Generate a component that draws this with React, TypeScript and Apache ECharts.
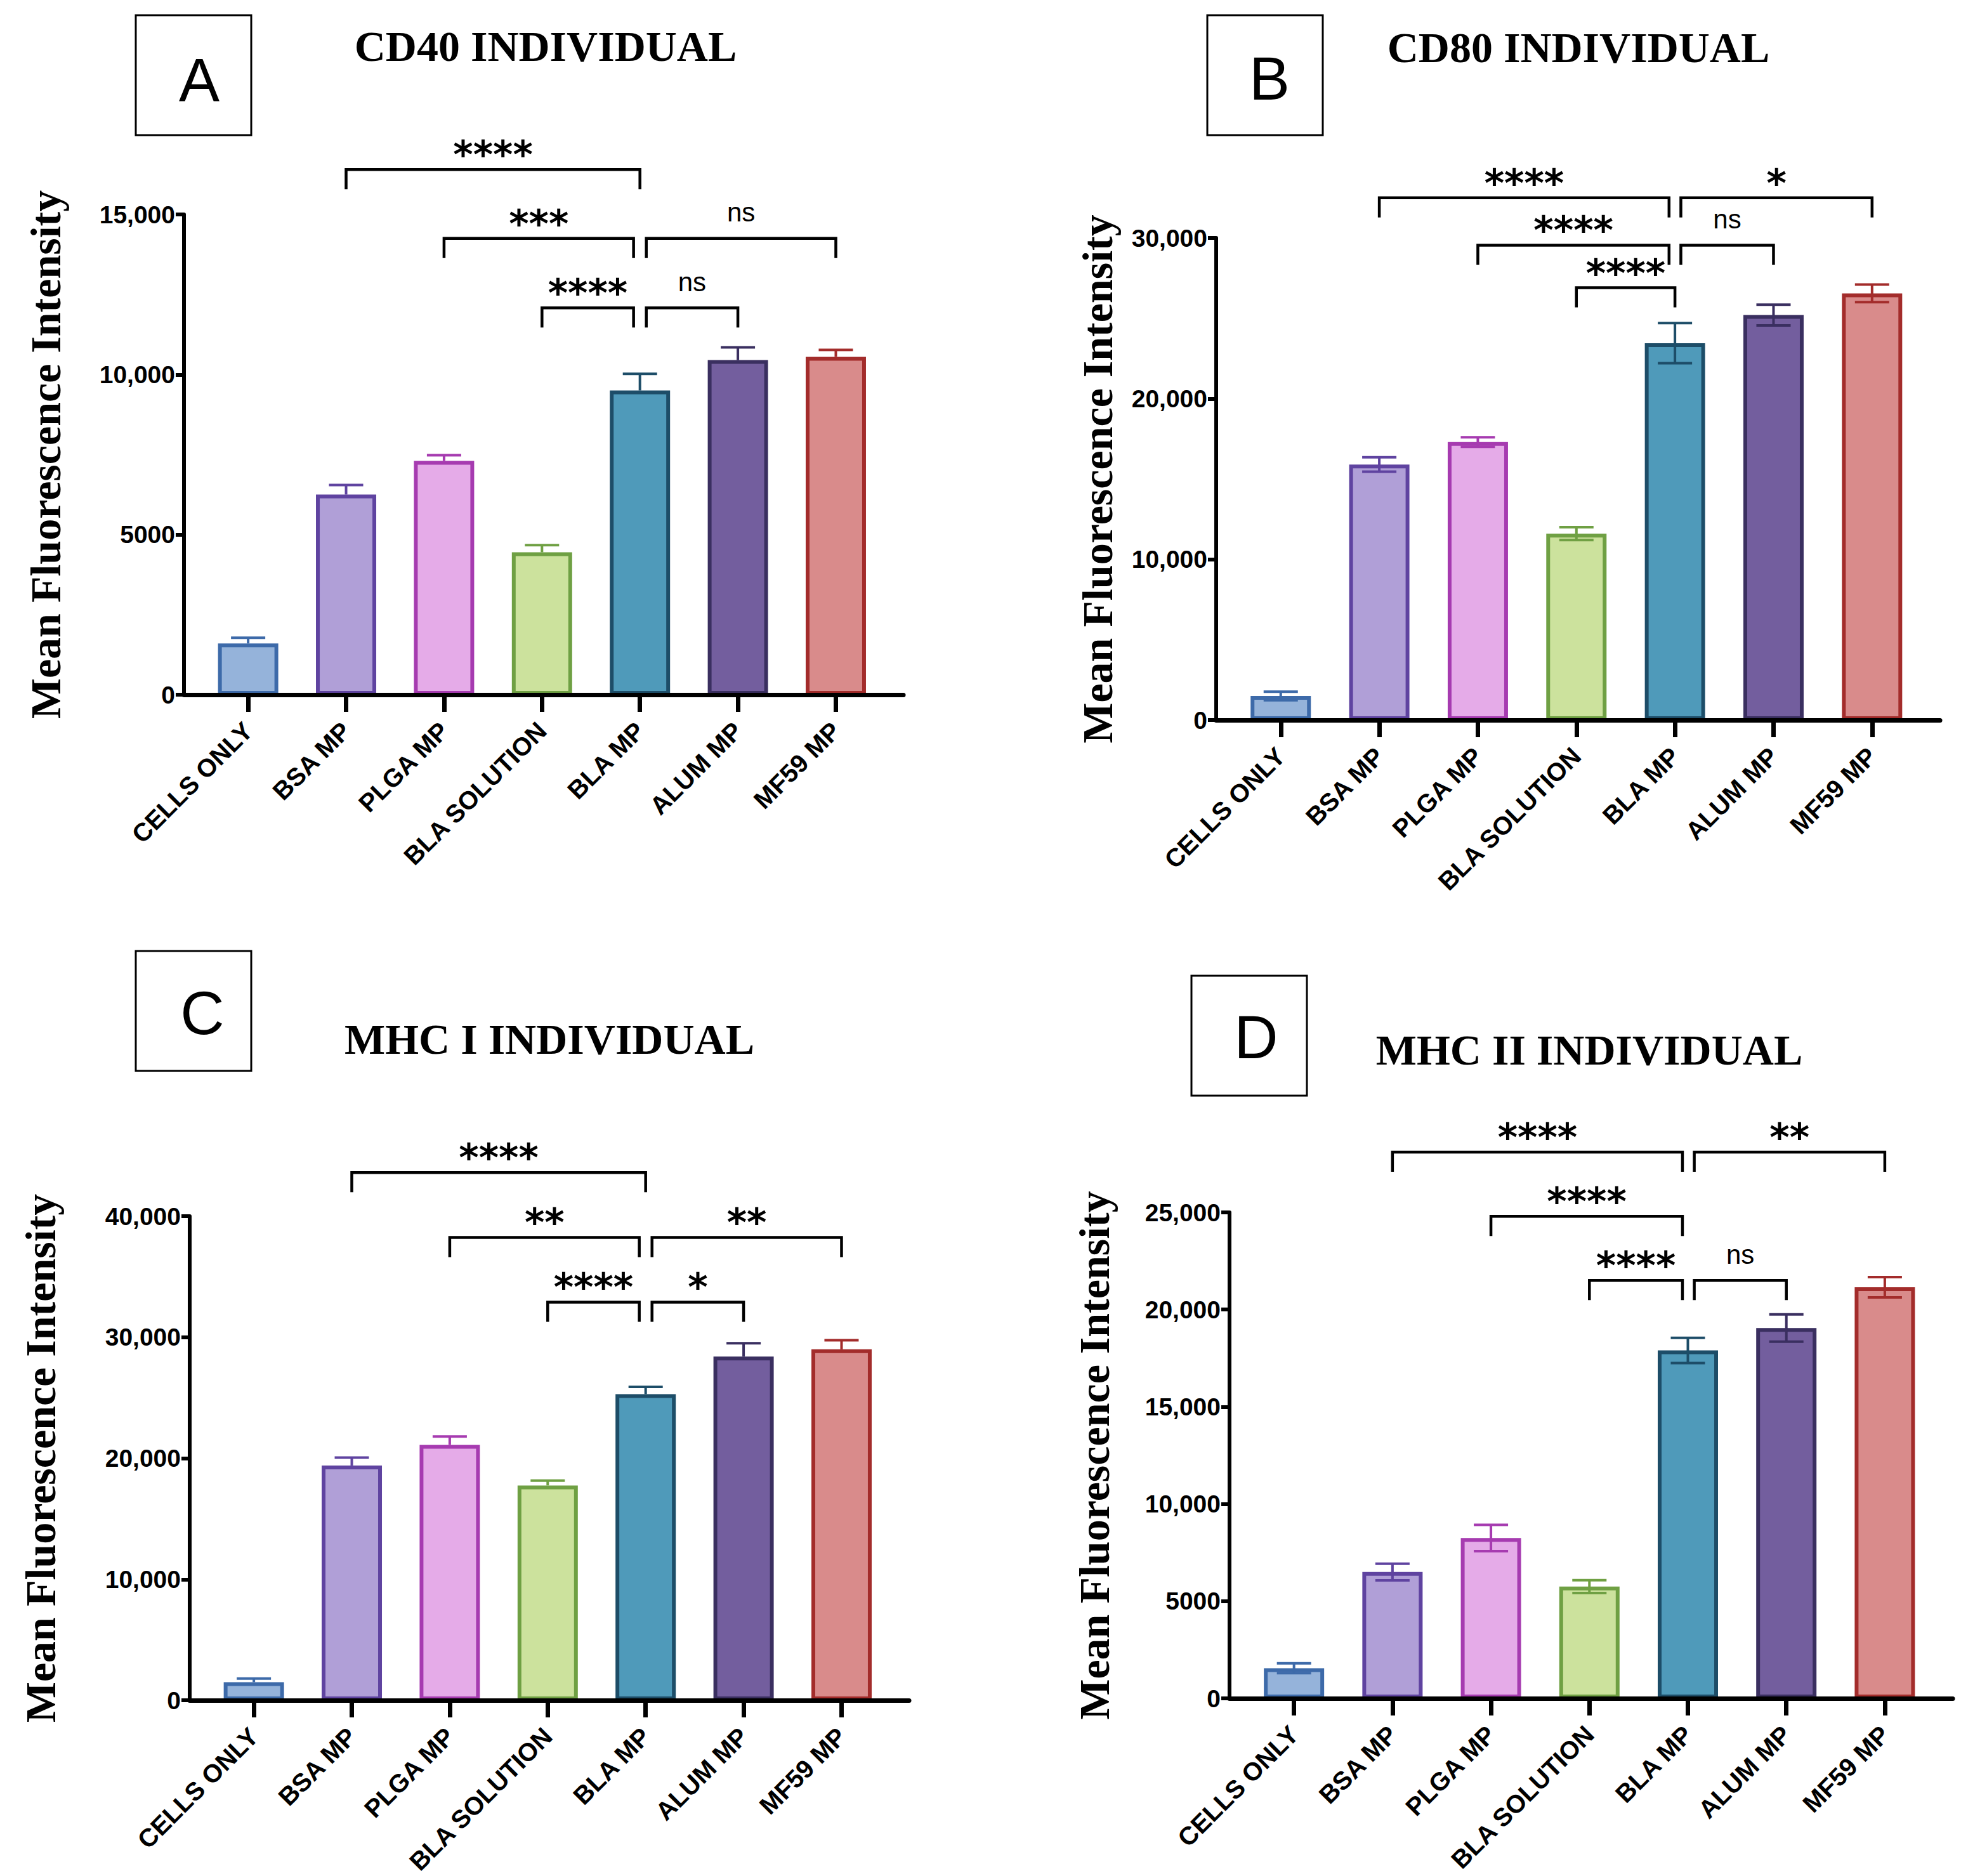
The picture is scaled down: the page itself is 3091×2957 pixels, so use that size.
import React, { useEffect, useRef } from "react";
import * as echarts from "echarts";

// ---------- data ----------
const categories = ["CELLS ONLY", "BSA MP", "PLGA MP", "BLA SOLUTION", "BLA MP", "ALUM MP", "MF59 MP"];

const cd40Mean = [1600, 6250, 7300, 4450, 9500, 10450, 10550];
const cd40Err = [180, 300, 180, 220, 520, 400, 220];
const cd80Mean = [1500, 15900, 17300, 11600, 23450, 25200, 26550];
const cd80Err = [270, 450, 300, 400, 1250, 650, 550];
const mhc1Mean = [1500, 19400, 21100, 17750, 25300, 28400, 29000];
const mhc1Err = [300, 650, 700, 400, 600, 1100, 750];
const mhc2Mean = [1550, 6500, 8250, 5750, 17900, 19050, 21150];
const mhc2Err = [250, 430, 680, 330, 650, 700, 520];

const cd40Ticks = [0, 5000, 10000, 15000];
const cd80Ticks = [0, 10000, 20000, 30000];
const mhc1Ticks = [0, 10000, 20000, 30000, 40000];
const mhc2Ticks = [0, 5000, 10000, 15000, 20000, 25000];

// brackets: [from category, to category, y value, label]
const cd40Brackets: [number, number, number, string][] = [
  [1, 4, 16400, "****"],
  [2, 3.935, 14250, "***"],
  [4.065, 6, 14250, "ns"],
  [3, 3.935, 12080, "****"],
  [4.065, 5, 12080, "ns"],
];
const cd80Brackets: [number, number, number, string][] = [
  [1, 3.94, 32500, "****"],
  [4.06, 6, 32500, "*"],
  [2, 3.94, 29550, "****"],
  [4.06, 5, 29550, "ns"],
  [3, 4, 26900, "****"],
];
const mhc1Brackets: [number, number, number, string][] = [
  [1, 4, 43600, "****"],
  [2, 3.935, 38250, "**"],
  [4.065, 6, 38250, "**"],
  [3, 3.935, 32900, "****"],
  [4.065, 5, 32900, "*"],
];
const mhc2Brackets: [number, number, number, string][] = [
  [1, 3.945, 28100, "****"],
  [4.065, 6, 28100, "**"],
  [2, 3.945, 24800, "****"],
  [3, 3.945, 21500, "****"],
  [4.065, 5, 21500, "ns"],
];

const titles = ["CD40 INDIVIDUAL", "CD80 INDIVIDUAL", "MHC I INDIVIDUAL", "MHC II INDIVIDUAL"];
const letters = ["A", "B", "C", "D"];
const yName = "Mean Fluorescence Intensity";

// ---------- styles ----------
const fills = ["#95b3da", "#b09fd7", "#e5abe8", "#cce29d", "#4f9aba", "#735e9e", "#d98b8b"];
const borders = ["#3d6aa9", "#5f43a0", "#a63bb0", "#6fa043", "#1d4d68", "#3a2f60", "#a32c2b"];

const SANS = "Liberation Sans, Arial, Helvetica, sans-serif";
const SERIF = "Liberation Serif, Times New Roman, serif";
const STAR = "DejaVu Sans, sans-serif";

type Panel = {
  means: number[];
  errs: number[];
  ticks: number[];
  brackets: [number, number, number, string][];
  both: boolean;
  grid: { left: number; top: number; width: number; height: number };
  nameGap: number;
  box: { x: number; y: number };
  letter: { x: number; y: number };
  title: { x: number; y: number };
};

const panels: Panel[] = [
  {
    means: cd40Mean, errs: cd40Err, ticks: cd40Ticks, brackets: cd40Brackets, both: false,
    grid: { left: 290, top: 338, width: 1134, height: 757 }, nameGap: 184,
    box: { x: 214, y: 24 }, letter: { x: 314, y: 125 }, title: { x: 860, y: 73 },
  },
  {
    means: cd80Mean, errs: cd80Err, ticks: cd80Ticks, brackets: cd80Brackets, both: true,
    grid: { left: 1917, top: 375, width: 1141, height: 760 }, nameGap: 153,
    box: { x: 1903, y: 24 }, letter: { x: 2001, y: 123 }, title: { x: 2488, y: 75 },
  },
  {
    means: mhc1Mean, errs: mhc1Err, ticks: mhc1Ticks, brackets: mhc1Brackets, both: false,
    grid: { left: 299, top: 1917, width: 1134, height: 763 }, nameGap: 201,
    box: { x: 214, y: 1499 }, letter: { x: 319, y: 1596 }, title: { x: 866, y: 1638 },
  },
  {
    means: mhc2Mean, errs: mhc2Err, ticks: mhc2Ticks, brackets: mhc2Brackets, both: true,
    grid: { left: 1938, top: 1911, width: 1140, height: 766 }, nameGap: 179,
    box: { x: 1878, y: 1538 }, letter: { x: 1980, y: 1634 }, title: { x: 2505, y: 1655 },
  },
];

const catIdx = categories.map((_, i) => i);

function fmtTick(v: number) {
  return v >= 10000 ? v.toLocaleString("en-US") : String(v);
}

function buildOption() {
  const grid: any[] = [];
  const xAxis: any[] = [];
  const yAxis: any[] = [];
  const series: any[] = [];
  const graphic: any[] = [];

  panels.forEach((p, pi) => {
    grid.push({ ...p.grid, outerBoundsMode: "none", containLabel: false });
    xAxis.push({
      type: "value",
      gridIndex: pi,
      min: -0.655,
      max: 6.69,
      z: 10,
      axisLine: { show: true, onZero: false, lineStyle: { color: "#000", width: 7 } },
      axisTick: { show: true, customValues: catIdx, length: 27, lineStyle: { color: "#000", width: 7 } },
      axisLabel: {
        show: true,
        customValues: catIdx,
        rotate: 45,
        margin: 50,
        color: "#000",
        fontFamily: SANS,
        fontWeight: "bold",
        fontSize: 40,
        formatter: (v: number) => categories[Math.round(v)] ?? "",
      },
      splitLine: { show: false },
    });
    const max = p.ticks[p.ticks.length - 1];
    yAxis.push({
      type: "value",
      gridIndex: pi,
      min: 0,
      max,
      interval: p.ticks[1] - p.ticks[0],
      z: 10,
      name: yName,
      nameLocation: "middle",
      nameGap: p.nameGap,
      nameTextStyle: { color: "#000", fontFamily: SERIF, fontWeight: "bold", fontSize: 68 },
      axisLine: { show: true, onZero: false, lineStyle: { color: "#000", width: 6 } },
      axisTick: { show: true, length: 13, lineStyle: { color: "#000", width: 6 } },
      axisLabel: {
        margin: 14,
        color: "#000",
        fontFamily: SANS,
        fontWeight: "bold",
        fontSize: 39,
        formatter: (v: number) => fmtTick(v),
      },
      splitLine: { show: false },
    });

    series.push({
      type: "bar",
      xAxisIndex: pi,
      yAxisIndex: pi,
      barWidth: 95,
      z: 2,
      data: p.means.map((v, i) => ({
        value: [i, v],
        itemStyle: { color: fills[i], borderColor: borders[i], borderWidth: 6 },
      })),
    });

    const both = p.both;
    series.push({
      type: "custom",
      xAxisIndex: pi,
      yAxisIndex: pi,
      z: 3,
      encode: { x: 0, y: 1 },
      data: p.means.map((v, i) => [i, v, p.errs[i]]),
      renderItem: (params: any, api: any) => {
        const i = api.value(0);
        const v = api.value(1);
        const e = api.value(2);
        const top = api.coord([i, v + e]);
        const bot = api.coord([i, both ? v - e : v]);
        const hw = 27;
        const c = borders[params.dataIndex];
        const st = { stroke: c, lineWidth: 4 };
        const children: any[] = [
          { type: "line", shape: { x1: top[0], y1: top[1], x2: bot[0], y2: bot[1] }, style: st },
          { type: "line", shape: { x1: top[0] - hw, y1: top[1], x2: top[0] + hw, y2: top[1] }, style: st },
        ];
        if (both) {
          children.push({ type: "line", shape: { x1: bot[0] - hw, y1: bot[1], x2: bot[0] + hw, y2: bot[1] }, style: st });
        }
        return { type: "group", children };
      },
    });

    const br = p.brackets;
    series.push({
      type: "custom",
      xAxisIndex: pi,
      yAxisIndex: pi,
      z: 4,
      clip: false,
      encode: { x: [0, 1], y: 2 },
      data: br.map((b) => [b[0], b[1], b[2]]),
      renderItem: (params: any, api: any) => {
        const a = api.coord([api.value(0), api.value(2)]);
        const b = api.coord([api.value(1), api.value(2)]);
        const leg = 31;
        const label = br[params.dataIndex][3];
        const isNs = label === "ns";
        return {
          type: "group",
          children: [
            {
              type: "polyline",
              shape: { points: [[a[0], a[1] + leg], [a[0], a[1]], [b[0], b[1]], [b[0], b[1] + leg]] },
              style: { stroke: "#000", lineWidth: 4.5, fill: "none", lineJoin: "miter" },
            },
            {
              type: "text",
              x: (a[0] + b[0]) / 2,
              y: a[1] - (isNs ? 41 : 23),
              style: {
                text: label,
                align: "center",
                verticalAlign: "middle",
                fill: "#000",
                fontFamily: isNs ? SANS : STAR,
                fontWeight: isNs ? "normal" : "bold",
                fontSize: isNs ? 42 : 60,
              },
            },
          ],
        };
      },
    });

    graphic.push({
      type: "rect",
      shape: { x: p.box.x, y: p.box.y, width: 182, height: 189 },
      style: { fill: "none", stroke: "#000", lineWidth: 3 },
    });
    graphic.push({
      type: "text",
      x: p.letter.x,
      y: p.letter.y,
      style: {
        text: letters[pi],
        align: "center",
        verticalAlign: "middle",
        fill: "#000",
        fontFamily: SANS,
        fontSize: 96,
      },
    });
    graphic.push({
      type: "text",
      x: p.title.x,
      y: p.title.y,
      style: {
        text: titles[pi],
        align: "center",
        verticalAlign: "middle",
        fill: "#000",
        fontFamily: SERIF,
        fontWeight: "bold",
        fontSize: 68,
      },
    });
  });

  return {
    animation: false,
    backgroundColor: "#fff",
    grid,
    xAxis,
    yAxis,
    series,
    graphic,
  };
}

export default function App() {
  const ref = useRef<HTMLDivElement>(null);
  useEffect(() => {
    document.body.style.margin = "0";
    const chart = echarts.init(ref.current!, null, { renderer: "svg" });
    chart.setOption(buildOption() as any);
    return () => chart.dispose();
  }, []);
  return <div ref={ref} style={{ width: 3091, height: 2957 }} />;
}
